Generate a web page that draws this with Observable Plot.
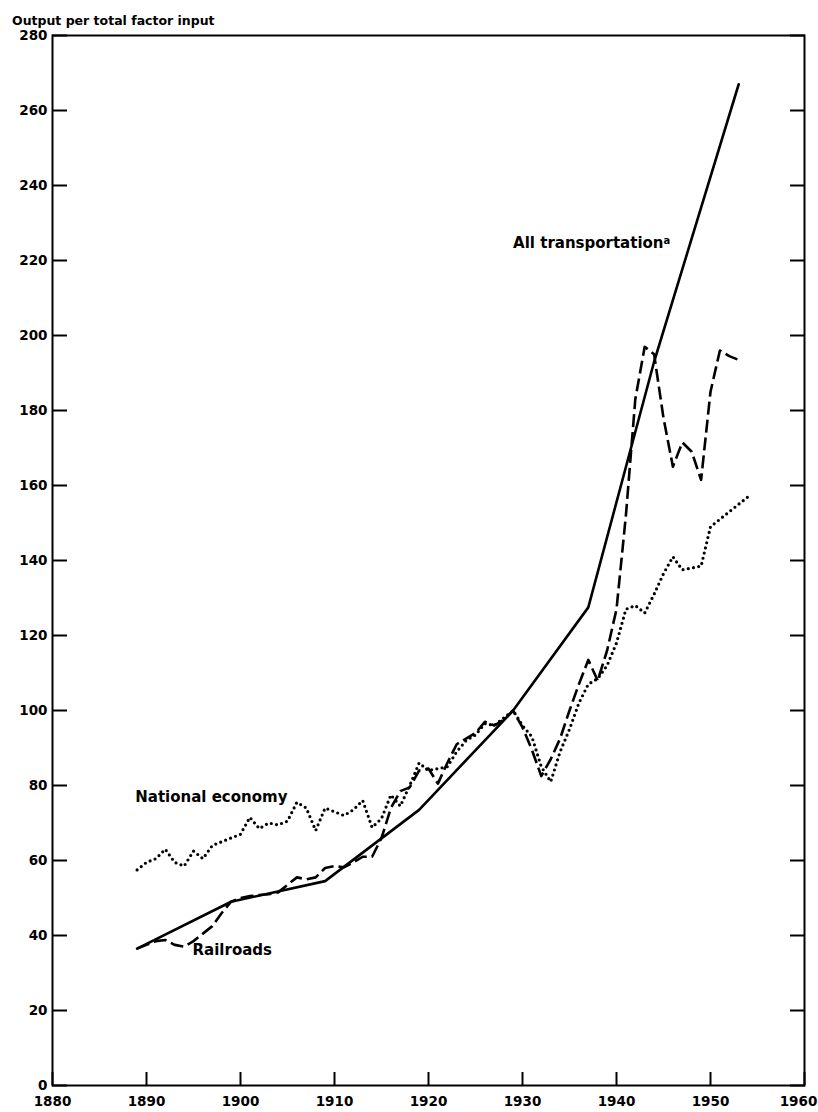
<!DOCTYPE html>
<html><head><meta charset="utf-8">
<script src="https://cdn.jsdelivr.net/npm/d3@7"></script>
<script src="https://cdn.jsdelivr.net/npm/@observablehq/plot@0.6"></script>
<style>
body{margin:0;background:#fff;}
#title{height:28px;box-sizing:border-box;padding:13px 0 0 12px;font-family:"DejaVu Sans";font-weight:bold;font-size:12.5px;color:#000;white-space:nowrap;}
#chart svg{display:block;}
</style></head><body>
<div id="title">Output per total factor input</div>
<div id="chart"></div>
<script>
const xTicks = [1880, 1890, 1900, 1910, 1920, 1930, 1940, 1950, 1960];
const yTicks = [0, 20, 40, 60, 80, 100, 120, 140, 160, 180, 200, 220, 240, 260, 280];

const railYears = d3.range(1889, 1954);
const railroads = [
  36.5, 37.5, 38.5, 38.8, 37.5, 37.0, 38.5, 40.5, 42.5, 46,
  49, 50, 50.5, 50.8, 51, 51.5, 53.5, 55.5, 55, 55.5,
  58, 58.5, 58.2, 59.5, 61, 61, 66, 74, 78.5, 79.5,
  84, 84.5, 80.5, 86, 91, 92.5, 94, 97, 96, 97.5,
  100, 95.5, 89.5, 82.5, 87, 92.5, 100, 107, 113.5, 108,
  116, 127, 152, 183, 197, 195, 178, 165, 171.5, 169,
  161.5, 185, 196, 194.5, 193.5
];

const natYears = d3.range(1889, 1955);
const national = [
  57.5, 59.5, 60.5, 63, 59.5, 58.5, 62.5, 60.5, 64, 65,
  66, 67, 71.5, 68.5, 70, 69.5, 70.5, 75.5, 74, 68,
  74, 73, 72, 73.5, 76, 68.8, 71.2, 77.5, 74.5, 80,
  86, 84, 84.5, 85, 89, 92, 93.5, 96.5, 96, 98,
  100, 96, 93, 85, 81, 89, 95, 102, 107, 108.5,
  112, 118, 127, 128, 126, 131, 136.5, 141, 137.5, 138,
  138.5, 149, 151, 153, 155, 157
];

const transYears = [1889, 1899, 1909, 1919, 1929, 1937, 1944, 1953];
const allTransport = [36.5, 49, 54.5, 73.5, 100, 127.5, 193, 267];

const rail = railYears.map((yr, i) => ({year: yr, value: railroads[i]}));
const nat = natYears.map((yr, i) => ({year: yr, value: national[i]}));
const trans = transYears.map((yr, i) => ({year: yr, value: allTransport[i]}));

const font = "DejaVu Sans";

const chart = Plot.plot({
  width: 818,
  height: 1084,
  marginTop: 7,
  marginBottom: 27,
  marginLeft: 52,
  marginRight: 14,
  x: {domain: [1880, 1960], label: null},
  y: {domain: [0, 280], label: null},
  style: {fontFamily: font, fontSize: "13.5px", fontWeight: "bold", background: "white", color: "black", overflow: "visible"},
  marks: [
    Plot.axisY(yTicks, {tickSize: 15, dx: 15, tickPadding: 5, strokeWidth: 2, label: null}),
    Plot.axisY(yTicks, {anchor: "right", tickSize: 15, dx: -15, fill: "none", strokeWidth: 2, label: null}),
    Plot.axisX(xTicks, {tickSize: 13, dy: -13, tickPadding: 11, strokeWidth: 2, tickFormat: d => String(d), label: null}),
    Plot.frame({stroke: "black", strokeWidth: 2}),
    Plot.line(nat, {x: "year", y: "value", stroke: "black", strokeWidth: 3.2, strokeDasharray: "0,5.3", strokeLinecap: "round"}),
    Plot.line(rail, {x: "year", y: "value", stroke: "black", strokeWidth: 2.6, strokeDasharray: "13,5", strokeLinecap: "butt", strokeLinejoin: "round"}),
    Plot.line(trans, {x: "year", y: "value", stroke: "black", strokeWidth: 2.6, strokeLinejoin: "round"}),
    Plot.text(["All transportation"], {x: 1929, y: 224.5, textAnchor: "start", fontSize: 15, fontWeight: "bold", fill: "black"}),
    Plot.text(["National economy"], {x: 1888.8, y: 76.8, textAnchor: "start", fontSize: 15, fontWeight: "bold", fill: "black"}),
    Plot.text(["Railroads"], {x: 1894.9, y: 36, textAnchor: "start", fontSize: 15, fontWeight: "bold", fill: "black"})
  ]
});

d3.select(chart).selectAll("text")
  .filter(function() { return this.textContent === "All transportation"; })
  .append("tspan").attr("dy", "-0.45em").attr("font-size", "10px").text("a");

// the last year label sits slightly left of its tick, as in the original
d3.select(chart).selectAll("text")
  .filter(function() { return this.textContent === "1960"; })
  .attr("dx", -6);

document.getElementById("chart").appendChild(chart);
</script>
</body></html>
